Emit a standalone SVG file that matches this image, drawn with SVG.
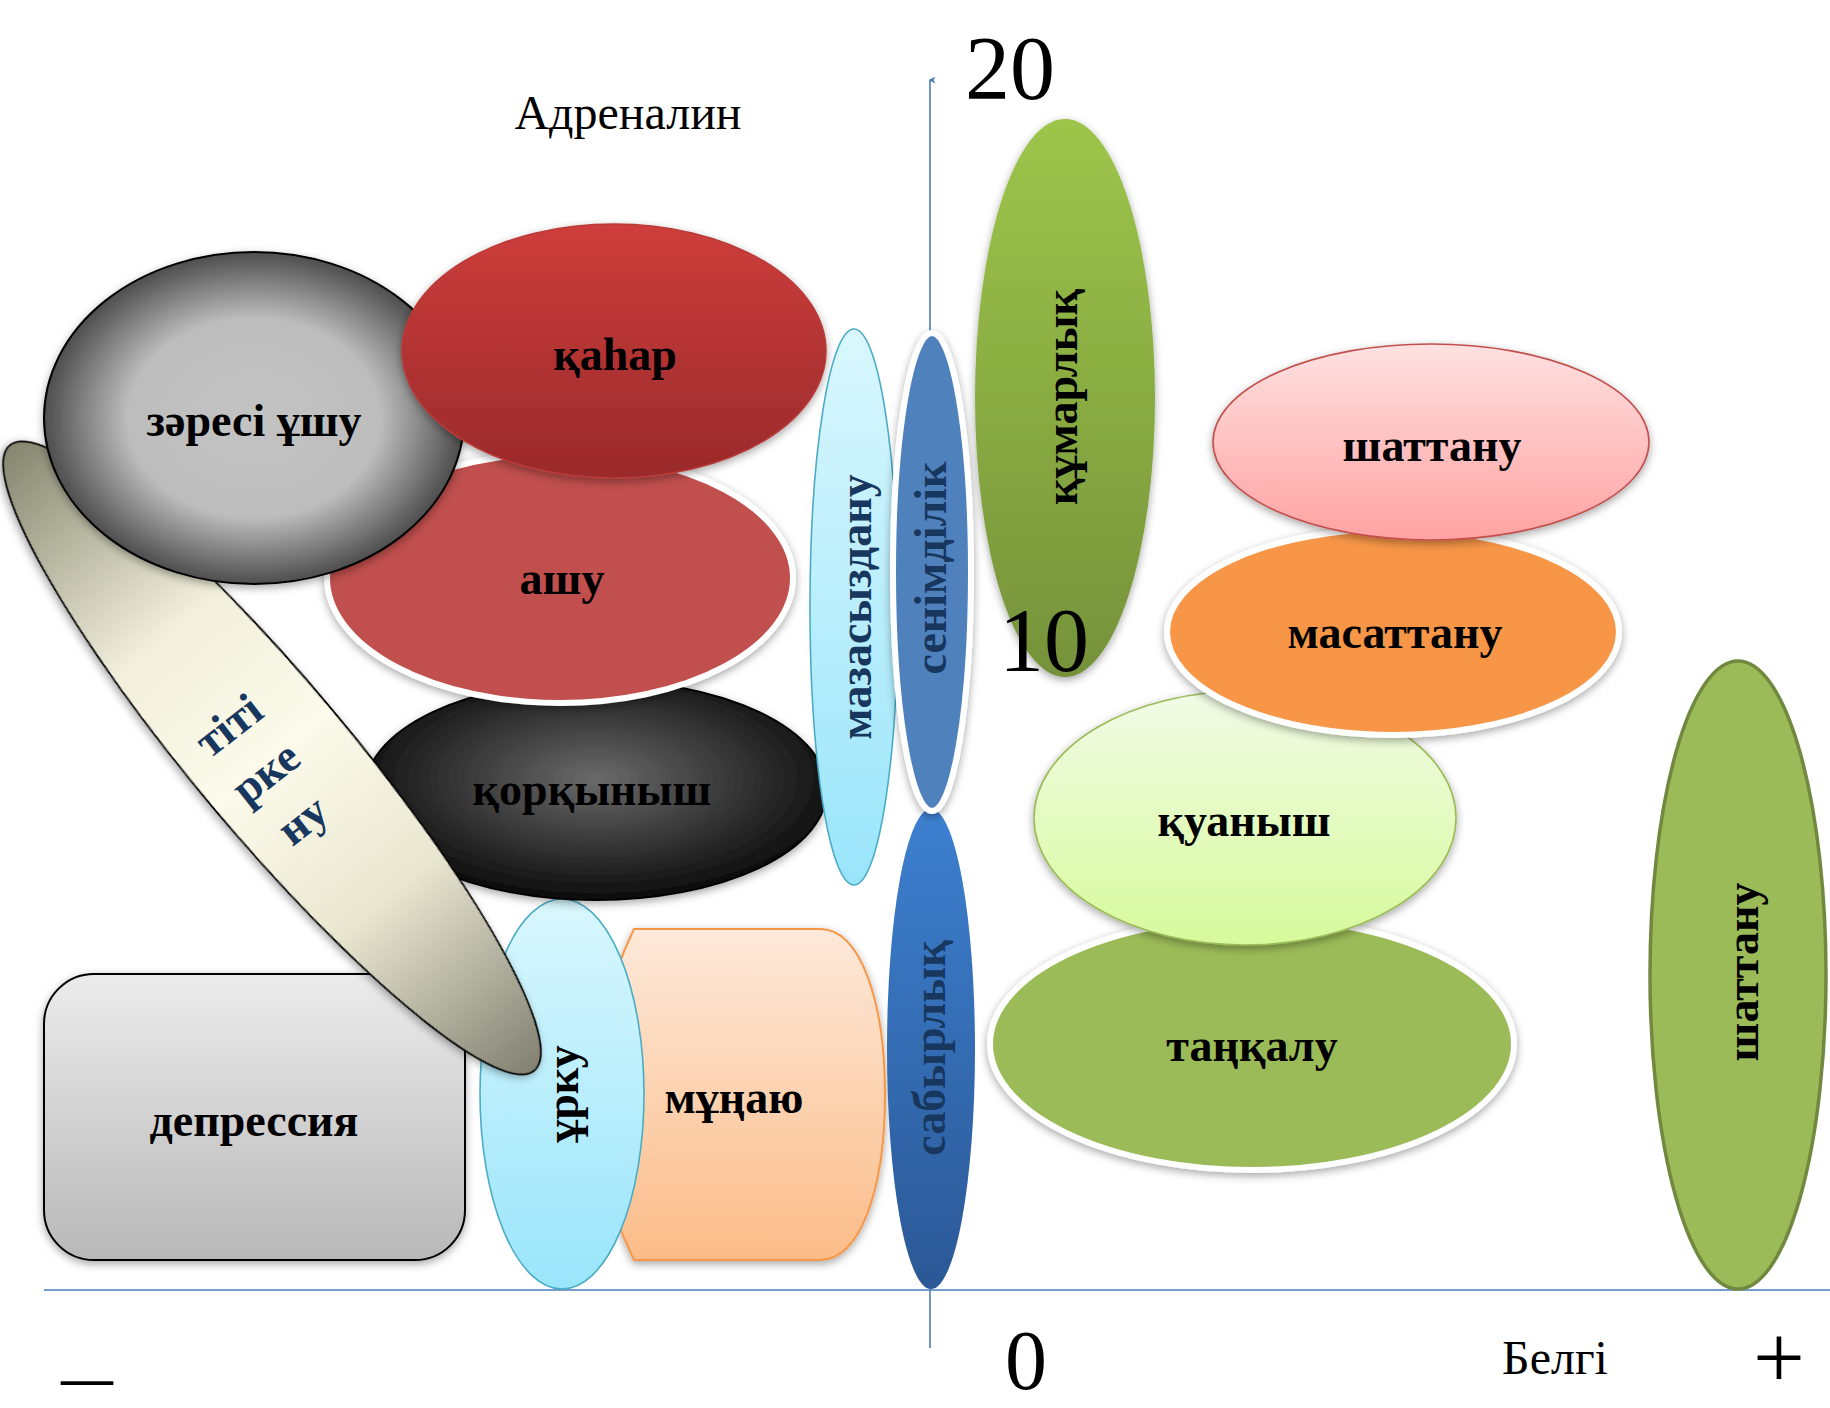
<svg xmlns="http://www.w3.org/2000/svg" width="1830" height="1408" viewBox="0 0 1830 1408">
<style>
.lbl{font-family:"Liberation Serif","Times New Roman",serif;font-weight:bold;font-size:46px;fill:#000;text-anchor:middle}
.nav{fill:#17375e}
.plain{font-family:"Liberation Serif","Times New Roman",serif;fill:#000}
.axis{stroke:#4a7ebb;stroke-width:1.6;fill:none}
.wb{stroke:#fff;stroke-width:6}
</style>
<defs>
<marker id="arr" viewBox="0 0 10 10" refX="5" refY="2" markerWidth="7" markerHeight="7" orient="auto-start-reverse" markerUnits="userSpaceOnUse">
<path d="M0,10 L5,0 L10,10 L5,7 Z" fill="#4a7ebb"/>
</marker>
<filter id="sh" x="-20%" y="-20%" width="140%" height="140%">
<feDropShadow dx="0" dy="3" stdDeviation="4" flood-color="#000" flood-opacity="0.35"/>
</filter>
<radialGradient id="gZ" cx="50%" cy="50%" r="50%">
<stop offset="0" stop-color="#c3c3c3"/><stop offset="0.6" stop-color="#bdbdbd"/><stop offset="1" stop-color="#4e4e4e"/>
</radialGradient>
<linearGradient id="gT" x1="0" y1="0" x2="1" y2="0">
<stop offset="0" stop-color="#86856f"/><stop offset="0.3" stop-color="#f1efdb"/><stop offset="0.5" stop-color="#fcfaea"/><stop offset="0.72" stop-color="#e9e6d1"/><stop offset="1" stop-color="#828172"/>
</linearGradient>
<linearGradient id="gK" x1="0" y1="0" x2="0" y2="1"><stop offset="0" stop-color="#cd3d3b"/><stop offset="1" stop-color="#9a2a2b"/></linearGradient>
<radialGradient id="gQ" cx="50%" cy="45%" r="55%"><stop offset="0" stop-color="#6a6a6a"/><stop offset="1" stop-color="#0c0c0c"/></radialGradient>
<linearGradient id="gD" x1="0" y1="0" x2="0" y2="1"><stop offset="0" stop-color="#ececec"/><stop offset="1" stop-color="#b8b8b8"/></linearGradient>
<linearGradient id="gU" x1="0" y1="0" x2="0" y2="1"><stop offset="0" stop-color="#d9f7fd"/><stop offset="1" stop-color="#9ae5fb"/></linearGradient>
<linearGradient id="gM" x1="0" y1="0" x2="0" y2="1"><stop offset="0" stop-color="#fde9da"/><stop offset="1" stop-color="#fbbc88"/></linearGradient>
<linearGradient id="gS" x1="0" y1="0" x2="0" y2="1"><stop offset="0" stop-color="#3d80d0"/><stop offset="1" stop-color="#2b5896"/></linearGradient>
<linearGradient id="gG" x1="0" y1="0" x2="0" y2="1"><stop offset="0" stop-color="#9dc54a"/><stop offset="1" stop-color="#75923a"/></linearGradient>
<linearGradient id="gP" x1="0" y1="0" x2="0" y2="1"><stop offset="0" stop-color="#ffe1e1"/><stop offset="1" stop-color="#ffa2a2"/></linearGradient>
<linearGradient id="gL" x1="0" y1="0" x2="0" y2="1"><stop offset="0" stop-color="#f1fbe6"/><stop offset="1" stop-color="#d7fa9c"/></linearGradient>
</defs>
<rect width="1830" height="1408" fill="#fff"/>

<g id="connectors">
<line class="axis" x1="930" y1="1348" x2="930" y2="80" marker-end="url(#arr)"/>
<line class="axis" x1="44" y1="1290" x2="1830" y2="1290"/>
</g>

<g id="depressiya">
<rect x="44" y="974" width="421" height="286" rx="50" fill="url(#gD)" stroke="#000" stroke-width="2" filter="url(#sh)"/>
<text class="lbl" x="254" y="1136">депрессия</text>
</g>
<g id="munayu">
<path d="M634,929 L820,929 C860,929 885,1000 885,1095 C885,1190 860,1260 820,1260 L634,1260 C605,1200 595,1150 595,1095 C595,1040 605,990 634,929 Z" fill="url(#gM)" stroke="#f79646" stroke-width="2" filter="url(#sh)"/>
<text class="lbl" x="734" y="1113">мұңаю</text>
</g>
<g id="urku">
<ellipse cx="562" cy="1094" rx="82" ry="195" fill="url(#gU)" stroke="#4bacc6" stroke-width="1.6"/>
<text class="lbl" transform="translate(562,1094) rotate(-90)" x="0" y="16">ұрку</text>
</g>
<g id="qorqynysh">
<ellipse cx="596" cy="790" rx="231" ry="110" fill="url(#gQ)" stroke="#000" stroke-width="2" filter="url(#sh)"/>
<text class="lbl" x="592" y="805">қорқыныш</text>
</g>
<g id="ashu">
<ellipse cx="560" cy="578" rx="233" ry="125" fill="#c0504d" class="wb" filter="url(#sh)"/>
<text class="lbl" x="562" y="594">ашу</text>
</g>
<g id="titirkenu">
<ellipse cx="0" cy="0" rx="408" ry="77" transform="translate(272,758) rotate(50)" fill="url(#gT)" stroke="#000" stroke-width="1.8" filter="url(#sh)"/>
<g transform="translate(265,772) rotate(-38)">
<text class="lbl nav" x="0" y="-44">тіті</text>
<text class="lbl nav" x="0" y="16">рке</text>
<text class="lbl nav" x="0" y="76">ну</text>
</g>
</g>
<g id="zaresi-ushu">
<ellipse cx="254" cy="418" rx="210" ry="166" fill="url(#gZ)" stroke="#000" stroke-width="2" filter="url(#sh)"/>
<text class="lbl" x="254" y="436">зәресі ұшу</text>
</g>
<g id="qahar">
<ellipse cx="614" cy="351" rx="212" ry="127" fill="url(#gK)" stroke="#b83a38" stroke-width="1.5" filter="url(#sh)"/>
<text class="lbl" x="615" y="370">қаһар</text>
</g>
<g id="mazasyzdanu">
<ellipse cx="854" cy="607" rx="44" ry="278" fill="url(#gU)" stroke="#4bacc6" stroke-width="1.6"/>
<text class="lbl nav" transform="translate(855,607) rotate(-90)" x="0" y="16">мазасыздану</text>
</g>
<g id="sabyrlyq">
<ellipse cx="931" cy="1049" rx="44" ry="240" fill="url(#gS)"/>
<text class="lbl nav" transform="translate(929,1048) rotate(-90)" x="0" y="16">сабырлық</text>
</g>
<g id="senimdilik">
<ellipse cx="932" cy="572" rx="39" ry="239" fill="#4f81bd" class="wb" filter="url(#sh)"/>
<text class="lbl nav" transform="translate(930,568) rotate(-90)" x="0" y="16">сенімділік</text>
</g>
<g id="qumarlyq">
<ellipse cx="1065" cy="398" rx="90" ry="279" fill="url(#gG)" filter="url(#sh)"/>
<text class="lbl" transform="translate(1061,397) rotate(-90)" x="0" y="16">құмарлық</text>
</g>
<g id="tanqalu">
<ellipse cx="1252" cy="1044" rx="262" ry="126" fill="#9bbb59" class="wb" filter="url(#sh)"/>
<text class="lbl" x="1252" y="1061">таңқалу</text>
</g>
<g id="quanysh">
<ellipse cx="1245" cy="818" rx="211" ry="127" fill="url(#gL)" stroke="#9bbb59" stroke-width="1.6" filter="url(#sh)"/>
<text class="lbl" x="1244" y="836">қуаныш</text>
</g>
<g id="masattanu">
<ellipse cx="1393" cy="632" rx="226" ry="103" fill="#f79646" class="wb" filter="url(#sh)"/>
<text class="lbl" x="1395" y="648">масаттану</text>
</g>
<g id="shattanu-1">
<ellipse cx="1431" cy="442" rx="218" ry="98" fill="url(#gP)" stroke="#c0504d" stroke-width="1.6" filter="url(#sh)"/>
<text class="lbl" x="1432" y="461">шаттану</text>
</g>
<g id="shattanu-2">
<ellipse cx="1738" cy="975" rx="88" ry="314" fill="#9bbb59" stroke="#71893f" stroke-width="3.5"/>
<text class="lbl" transform="translate(1742,972) rotate(-90)" x="0" y="16">шаттану</text>
</g>

<g id="axis-labels">
<text class="plain" x="1010" y="99" font-size="90" text-anchor="middle">20</text>
<text class="plain" x="1044" y="671" font-size="90" text-anchor="middle">10</text>
<text class="plain" x="1026" y="1389" font-size="84" text-anchor="middle">0</text>
<text class="plain" x="628" y="129" font-size="48" text-anchor="middle">Адреналин</text>
<text class="plain" x="1555" y="1374" font-size="48" text-anchor="middle">Белгі</text>
<text class="plain" x="87" y="1396" font-size="52" font-weight="bold" text-anchor="middle">—</text>
<text class="plain" x="1779" y="1388" font-size="92" text-anchor="middle">+</text>
</g>
</svg>
